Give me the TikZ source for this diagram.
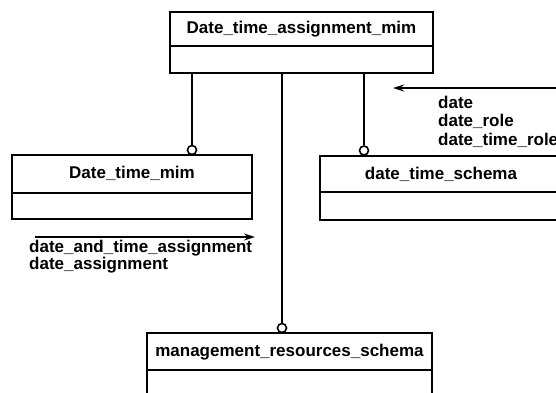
\documentclass[tikz,border=0pt]{standalone}
\usepackage{fontspec}
\setmainfont{Liberation Sans}
\usetikzlibrary{arrows.meta}
\begin{document}
\begin{tikzpicture}[x=1pt,y=-1pt,
  boxline/.style={line width=1.8pt},
  box/.style={draw, line width=1.8pt, rectangle, inner sep=0pt},
  lbl/.style={font=\fontsize{17}{19}\selectfont\bfseries, inner sep=0pt},
  circ/.style={draw, circle, line width=1.6pt, minimum size=9pt, inner sep=0pt, fill=white},
  conn/.style={line width=1.8pt},
  flow/.style={line width=1.4pt, -{Stealth[length=11pt,width=7pt]}}]
\useasboundingbox (0,0) rectangle (556,392);
\clip (0,0) rectangle (556,392);
% top class box
\node[box, minimum width=263pt, minimum height=61pt] (top) at (301.5,42.5) {};
\draw[boxline] (170,46) -- (433,46);
\node[lbl] (topname) at (301.5,29) {Date\_time\_assignment\_mim};
% left class box
\node[box, minimum width=240pt, minimum height=64pt] (left) at (132,187) {};
\draw[boxline] (12,193) -- (252,193);
\node[lbl] (leftname) at (132,173) {Date\_time\_mim};
% right class box
\node[box, minimum width=242pt, minimum height=64pt] (right) at (441,188) {};
\draw[boxline] (320,192) -- (562,192);
\node[lbl] (rightname) at (441,174) {date\_time\_schema};
% bottom class box
\node[box, minimum width=285pt, minimum height=80pt] (bottom) at (289.5,373) {};
\draw[boxline] (147,370) -- (432,370);
\node[lbl] (bottomname) at (289.5,352) {management\_resources\_schema};
% circles
\node[circ] (c1) at (192,150) {};
\node[circ] (c2) at (364,150.5) {};
\node[circ] (c3) at (282,328) {};
% connectors
\draw[conn] (c1 |- top.south) -- (c1.north);
\draw[conn] (c2 |- top.south) -- (c2.north);
\draw[conn] (c3 |- top.south) -- (c3.north);
% flow arrows
\coordinate (a1s) at (562,88);
\coordinate (a1e) at (393,88);
\draw[flow] (a1s) -- (a1e);
\node[lbl, anchor=west] (r1) at (438,102) {date};
\node[lbl, anchor=west] (r2) at (438,121) {date\_role};
\node[lbl, anchor=west] (r3) at (438,140) {date\_time\_role};
\coordinate (a2s) at (35,237);
\coordinate (a2e) at (255,237);
\draw[flow] (a2s) -- (a2e);
\node[lbl, anchor=west] (l1) at (29,248) {date\_and\_time\_assignment};
\node[lbl, anchor=west] (l2) at (29,265) {date\_assignment};
\end{tikzpicture}
\end{document}
